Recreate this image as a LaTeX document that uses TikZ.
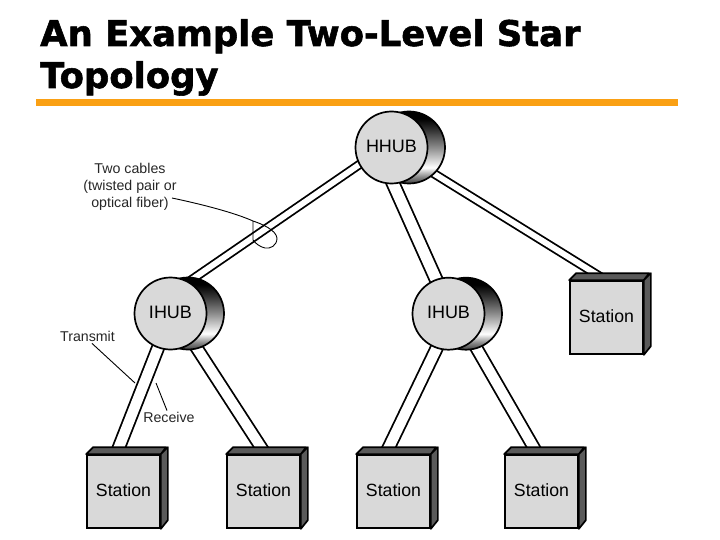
\documentclass[tikz,border=0pt]{standalone}
\usepackage{fontspec}
\setmainfont{Liberation Sans}
\newfontfamily\titlefont[BoldFeatures={FakeBold=1.6}]{DejaVu Sans}
\usetikzlibrary{backgrounds,calc}
\definecolor{barorange}{RGB}{250,160,20}
\definecolor{facegray}{RGB}{217,217,217}
\definecolor{shadegray}{RGB}{90,90,90}
\pgfdeclareverticalshading{hubshade}{100bp}{
  color(0bp)=(black!75); color(25bp)=(black!75); color(30bp)=(black!45);
  color(36bp)=(white); color(50bp)=(black!45); color(62bp)=(black!80);
  color(70bp)=(black); color(100bp)=(black)}
\tikzset{
  hubfront/.style={circle,draw=black,line width=1.7pt,fill=facegray,minimum size=72pt,inner sep=0pt,font=\fontsize{18}{18}\selectfont},
  hubback/.style={circle,draw=black,line width=1.7pt,shading=hubshade,minimum size=72pt,inner sep=0pt},
  stationbox/.style={rectangle,draw=black,line width=1.7pt,fill=facegray,minimum size=73pt,inner sep=0pt,font=\fontsize{17.7}{18}\selectfont},
  sideface/.style={draw=black,line width=1.7pt,fill=shadegray,line join=round},
  cable/.style={double=white,draw=black,line width=1.8pt,double distance=#1,shorten <=-4pt,shorten >=-4pt},
  lbl/.style={inner sep=0pt,align=center,font=\fontsize{14.2}{17}\selectfont,text=black!85},
  leader/.style={draw=black,line width=0.9pt}
}
\newcommand{\hubat}[4]{%
  \node[hubback] (#1back) at (#3+17.5,#4) {};
  \node[hubfront] (#1) at (#3,#4) {\raisebox{2pt}{#2}};}
\newcommand{\stationat}[3]{%
  \node[stationbox] (#1) at (#2,#3) {\raisebox{2.6pt}{Station}};
  \draw[sideface] (#1.north west) -- ++(7,-7) -- ++(73,0) -- (#1.north east) -- cycle;
  \draw[sideface] (#1.north east) -- ++(7,-7) -- ++(0,73) -- (#1.south east) -- cycle;}
\begin{document}
\begin{tikzpicture}[x=1pt,y=-1pt]
\useasboundingbox (0,0) rectangle (720,540);
\node[anchor=base west,inner sep=0pt,align=left,font=\titlefont\bfseries\fontsize{35.4}{42}\selectfont] (title) at (40,88) {An Example Two-Level Star\\Topology};
\node[fill=barorange,minimum width=642pt,minimum height=7.5pt,inner sep=0pt,anchor=north west] (bar) at (36,98.7) {};
\hubat{hhub}{HHUB}{391.5}{147.5}
\hubat{ihubl}{IHUB}{170.5}{313.5}
\hubat{ihubr}{IHUB}{448.5}{313.7}
\stationat{stright}{606.5}{317.5}
\stationat{sta}{123.5}{491.5}
\stationat{stb}{263.5}{491.5}
\stationat{stc}{393.5}{491.5}
\stationat{std}{541.5}{491.5}
\begin{scope}[on background layer]
  \draw[cable=5.8pt] (hhub.208) -- (ihubl.60);
  \draw[cable=11pt] (hhub.-87) -- (ihubr.110.4);
  \draw[cable=5.8pt] (hhubback.-46) -- (stright.91.5);
  \draw[cable=10.4pt] (ihubl.250) -- (sta.101);
  \draw[cable=10pt] (ihubl.308) -- (stb.87.5);
  \draw[cable=10.4pt] (ihubr.251.5) -- (stc.102.8);
  \draw[cable=10pt] (ihubr.-49) -- (std.96);
\end{scope}
\node[lbl] (twocables) at (130,187) {Two cables\\(twisted pair or\\optical fiber)};
\node[lbl] (transmit) at (87.5,336) {Transmit};
\node[lbl] (receive) at (169,417) {Receive};
\coordinate (cablestart) at (172,198);
\coordinate (loopa) at (253,221);
\coordinate (txend) at (135,383);
\coordinate (rxend) at (156,383);
\draw[leader] (cablestart) .. controls (205,205) and (235,213) .. (loopa)
  .. controls (262,224) and (276,230) .. (277,238)
  .. controls (277,246) and (270,249) .. (265,248)
  .. controls (260,247) and (255,243) .. (253,240) -- (loopa);
\draw[leader] ($(transmit.south)+(4.5,2)$) -- (txend);
\draw[leader] ($(receive.north)+(-2,-1)$) -- (rxend);
\end{tikzpicture}
\end{document}
